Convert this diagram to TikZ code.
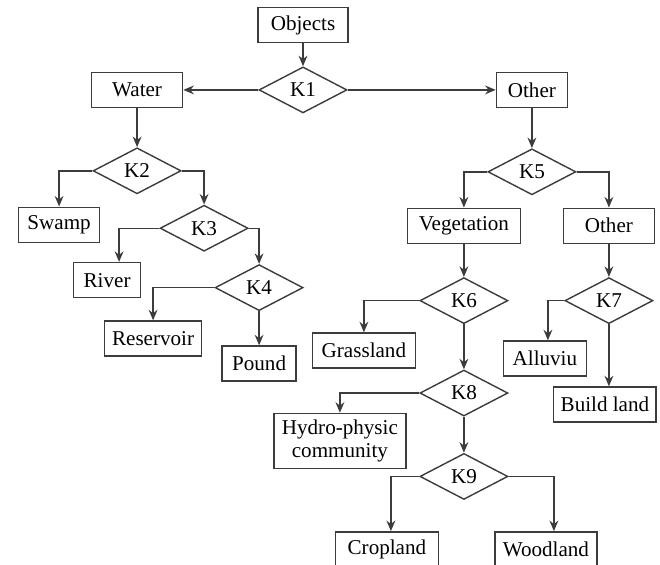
\documentclass[tikz,border=0pt]{standalone}
\usepackage{tikz}
\usetikzlibrary{shapes.geometric, arrows.meta, positioning, calc}
\usepackage{fontspec}
\setmainfont{Liberation Serif}
\definecolor{linecolor}{RGB}{60,60,60}

\begin{document}
\begin{tikzpicture}[
    node distance=0.5cm,
    box/.style={rectangle, draw=linecolor, line width=0.8pt, minimum height=0.7cm, inner xsep=4pt, font=\fontsize{12}{13}\selectfont},
    test/.style={diamond, draw=linecolor, line width=0.8pt, minimum width=1.76cm, minimum height=0.92cm, inner sep=0pt, font=\fontsize{12}{13}\selectfont},
    arrow/.style={-{Stealth[length=6pt,width=5pt]}, draw=linecolor, line width=0.8pt}
]
    \useasboundingbox (0,0) rectangle (13.2,-11.28);

    % Root
    \node[box, minimum width=1.8cm] (objects) at (6.06,-0.5) {Objects};
    \node[test, below=0.46cm of objects] (k1) {K1};
    \node[box, minimum width=1.82cm, left=1.5cm of k1] (water) {Water};
    \node[box, minimum width=1.42cm, right=2.96cm of k1] (other) {Other};

    % Water branch
    \node[test, below=0.78cm of water] (k2) {K2};
    \node[box, minimum width=1.62cm, below=0.24cm of k2, xshift=-1.56cm] (swamp) {Swamp};
    \node[test, below=0.2cm of k2, xshift=1.34cm] (k3) {K3};
    \node[box, minimum width=1.34cm, below=0.2cm of k3, xshift=-1.94cm] (river) {River};
    \node[test, below=0.24cm of k3, xshift=1.1cm] (k4) {K4};
    \node[box, minimum width=1.94cm, below=0.18cm of k4, xshift=-2.12cm] (reservoir) {Reservoir};
    \node[box, minimum width=1.48cm, below=0.68cm of k4] (pound) {Pound};

    % Other branch
    \node[test, below=0.8cm of other] (k5) {K5};
    \node[box, minimum width=2.26cm, below=0.24cm of k5, xshift=-1.36cm] (veg) {Vegetation};
    \node[box, minimum width=1.82cm, below=0.24cm of k5, xshift=1.54cm] (other2) {Other};
    \node[test, below=0.66cm of veg] (k6) {K6};
    \node[test, below=0.66cm of other2] (k7) {K7};
    \node[box, minimum width=2.06cm, below=0.16cm of k6, xshift=-2cm] (grass) {Grassland};
    \node[box, minimum width=1.66cm, below=0.32cm of k7, xshift=-1.28cm] (alluviu) {Alluviu};
    \node[box, minimum width=1.94cm, below=1.24cm of k7, xshift=-0.08cm] (build) {Build land};
    \node[test, below=0.9cm of k6] (k8) {K8};
    \node[box, minimum width=2.64cm, minimum height=1.1cm, align=center, below=-0.08cm of k8, xshift=-2.48cm] (hydro) {Hydro-physic\\community};
    \node[test, below=0.72cm of k8] (k9) {K9};
    \node[box, minimum width=2.06cm, below=0.62cm of k9, xshift=-1.54cm] (crop) {Cropland};
    \node[box, minimum width=2.04cm, below=0.62cm of k9, xshift=1.64cm] (wood) {Woodland};

    % Connectors
    \draw[arrow] (objects) -- (k1);
    \draw[arrow] (k1.west) -- (water.east);
    \draw[arrow] (k1.east) -- (other.west);
    \draw[arrow] (water) -- (k2);
    \draw[arrow] (other) -- (k5);
    \draw[arrow] (k2.west) -| (swamp.north);
    \draw[arrow] (k2.east) -| (k3.north);
    \draw[arrow] (k3.west) -| ([xshift=0.24cm]river.north);
    \draw[arrow] (k3.east) -| (k4.north);
    \draw[arrow] (k4.west) -| (reservoir.north);
    \draw[arrow] (k4) -- (pound);
    \draw[arrow] (k5.west) -| (veg.north);
    \draw[arrow] (k5.east) -| (other2.north);
    \draw[arrow] (veg) -- (k6);
    \draw[arrow] (other2) -- (k7);
    \draw[arrow] (k6.west) -| (grass.north);
    \draw[arrow] (k7.west) -| ([xshift=0.06cm]alluviu.north);
    \draw[arrow] (k7.south) -- (k7.south |- build.north);
    \draw[arrow] (k6) -- (k8);
    \draw[arrow] (k8.west) -| (hydro.north);
    \draw[arrow] (k8) -- (k9);
    \draw[arrow] (k9.west) -| ([xshift=0.08cm]crop.north);
    \draw[arrow] (k9.east) -| ([xshift=0.16cm]wood.north);

\end{tikzpicture}
\end{document}
